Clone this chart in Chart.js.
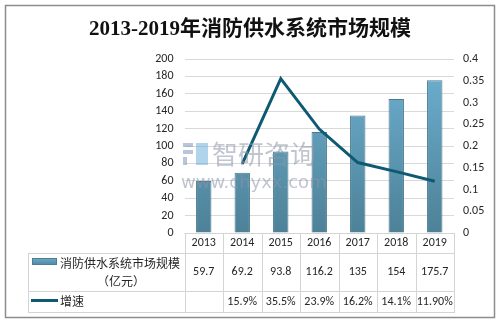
<!DOCTYPE html>
<html>
<head>
<meta charset="utf-8">
<script src="https://cdn.jsdelivr.net/npm/chart.js@4/dist/chart.umd.min.js"></script>
<style>
html,body{margin:0;padding:0;background:#fff;}
#wrap{width:500px;height:324px;position:relative;}
</style>
</head>
<body>
<div id="wrap"><canvas id="c" width="500" height="324"></canvas></div>
<script>
const title = '2013-2019年消防供水系统市场规模';
const categories = ['2013','2014','2015','2016','2017','2018','2019'];
const marketSize = [59.7, 69.2, 93.8, 116.2, 135, 154, 175.7];
const growth = [null, 0.159, 0.355, 0.239, 0.162, 0.141, 0.119];
const marketLabels = ['59.7','69.2','93.8','116.2','135','154','175.7'];
const growthLabels = ['', '15.9%', '35.5%', '23.9%', '16.2%', '14.1%', '11.90%'];
const seriesNames = ['消防供水系统市场规模', '（亿元）', '增速'];

const FONT = "Calibri, Carlito, 'Liberation Sans', 'Noto Sans CJK SC', sans-serif";
const GRID = '#d9d9d9';
const TABLE = '#d4d4d4';
const LINE = '#0f5a73';

function barGradient(ctx){
  const ch = ctx.chart; const a = ch.chartArea;
  if(!a) return '#5f9dbb';
  const g = ch.ctx.createLinearGradient(0, a.top, 0, a.bottom);
  g.addColorStop(0, '#6eb1d2');
  g.addColorStop(1, '#4d8197');
  return g;
}

const deco = {
  id: 'deco',
  beforeDraw(chart){
    const c = chart.ctx;
    c.save();
    c.fillStyle = '#fff';
    c.fillRect(0,0,chart.width,chart.height);
    c.strokeStyle = '#8c8c8c';
    c.lineWidth = 1.5;
    c.strokeRect(5.5, 5.5, 489, 312);
    c.fillStyle = '#111';
    c.font = "bold 21px 'Liberation Serif', 'Noto Sans CJK SC', serif";
    c.textAlign = 'center';
    c.textBaseline = 'middle';
    c.fillText(title, 250, 30);
    c.restore();
  },
  afterDatasetsDraw(chart){
    const c = chart.ctx;
    c.save();
    c.fillStyle = 'rgba(140,150,170,0.55)';
    c.font = "26px 'Noto Sans CJK SC', sans-serif";
    c.textBaseline = 'middle';
    c.textAlign = 'left';
    c.fillText('智研咨询', 212, 154);
    c.font = "18px 'DejaVu Sans', sans-serif";
    c.fillText('www.chyxx.com', 181, 183);
    c.fillStyle = 'rgba(120,140,180,0.5)';
    c.fillRect(183,143,10,4); c.fillRect(183,150,10,4); c.fillRect(183,157,4,8);
    c.fillStyle = 'rgba(100,170,220,0.5)';
    c.fillRect(196,143,12,22);
    c.restore();
  },
  afterDraw(chart){
    const c = chart.ctx;
    const x = chart.scales.x;
    const a = chart.chartArea;
    const L = a.left, R = a.right;
    const step = (R - L) / categories.length;
    const y0 = a.bottom, y1 = 253, y2 = 291, y3 = 312, tl = 28;
    c.save();
    c.strokeStyle = TABLE;
    c.lineWidth = 1;
    const h = (xa, xb, y) => { c.beginPath(); c.moveTo(xa, y+0.5); c.lineTo(xb, y+0.5); c.stroke(); };
    const v = (xx, ya, yb) => { c.beginPath(); c.moveTo(Math.round(xx)+0.5, ya); c.lineTo(Math.round(xx)+0.5, yb); c.stroke(); };
    h(L, R, y0); h(tl, R, y1); h(tl, R, y2); h(tl, R, y3);
    v(tl, y1, y3+1);
    for(let i=0;i<=categories.length;i++) v(L + i*step, y0, y3+1);
    c.fillStyle = '#262626';
    c.font = "12px " + FONT;
    c.textAlign = 'center';
    c.textBaseline = 'middle';
    categories.forEach((cat,i)=>{
      const cx = x.getPixelForValue(i);
      c.fillText(cat, cx, 243);
      c.fillText(marketLabels[i], cx, 272);
      c.fillText(growthLabels[i], cx, 302);
    });
    const g = c.createLinearGradient(0,257,0,266);
    g.addColorStop(0,'#6eb1d2'); g.addColorStop(1,'#4d8197');
    c.fillStyle = g;
    c.fillRect(32, 258, 25, 7);
    c.strokeStyle = '#4d7d92';
    c.strokeRect(32.5, 258.5, 24, 6);
    c.fillStyle = '#262626';
    c.font = "12px 'Noto Sans CJK SC', sans-serif";
    c.textAlign = 'left';
    c.fillText(seriesNames[0], 60, 263);
    c.textAlign = 'center';
    c.fillText(seriesNames[1], 121, 281);
    c.strokeStyle = LINE;
    c.lineWidth = 3;
    c.beginPath(); c.moveTo(31, 300.5); c.lineTo(58, 300.5); c.stroke();
    c.textAlign = 'left';
    c.fillText(seriesNames[2], 60, 301);
    c.restore();
  }
};

new Chart(document.getElementById('c'), {
  data: {
    labels: categories,
    datasets: [
      {
        type: 'line', label: seriesNames[2], data: growth, yAxisID: 'y1',
        borderColor: LINE, borderWidth: 3, pointRadius: 0, tension: 0,
        spanGaps: false, order: 0
      },
      {
        type: 'bar', label: seriesNames[0], data: marketSize, yAxisID: 'y',
        backgroundColor: barGradient, borderColor: '#4a7a8f', borderWidth: {left:1,right:1,top:1,bottom:0},
        categoryPercentage: 1, barPercentage: 0.4, order: 1
      }
    ]
  },
  options: {
    responsive: false,
    animation: false,
    layout: { padding: { top: 59, bottom: 91, left: 0, right: 0 } },
    plugins: { legend: { display: false }, title: { display: false }, tooltip: { enabled: false } },
    scales: {
      x: { display: false, offset: true },
      y: {
        position: 'left', min: 0, max: 200,
        ticks: { stepSize: 20, color: '#262626', font: { size: 12, family: FONT }, padding: 11 },
        grid: { color: GRID, drawTicks: false },
        border: { display: false },
        afterFit(s){ s.width = 184.5; }
      },
      y1: {
        position: 'right', min: 0, max: 0.4,
        ticks: { stepSize: 0.05, color: '#262626', font: { size: 12, family: FONT }, padding: 9,
          callback: v => String(Math.round(v*100)/100) },
        grid: { display: false, drawTicks: false },
        border: { display: false },
        afterFit(s){ s.width = 46; }
      }
    }
  },
  plugins: [deco]
});
</script>
</body>
</html>
